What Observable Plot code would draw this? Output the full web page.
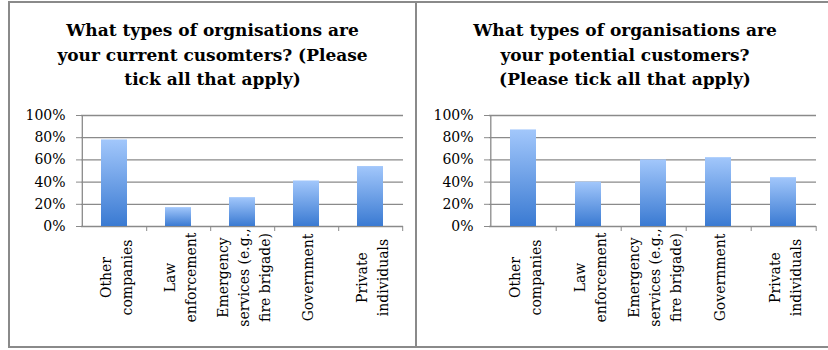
<!DOCTYPE html>
<html>
<head>
<meta charset="utf-8">
<script src="https://cdn.jsdelivr.net/npm/d3@7"></script>
<script src="https://cdn.jsdelivr.net/npm/@observablehq/plot@0.6"></script>
<style>
  html, body { margin: 0; padding: 0; background: #fff; width: 828px; height: 350px; overflow: hidden; }
  .panel { position: absolute; top: 1px; height: 347px; box-sizing: border-box; border: 2px solid #8a8a8a; background: #fff; overflow: hidden; }
  .title { position: absolute; left: 0; right: 0; top: 15px; text-align: center; font: bold 17px "DejaVu Serif"; line-height: 24.5px; color: #000; }
  .chart { position: absolute; left: 0; top: 102px; }
</style>
</head>
<body>
<div class="panel" id="current" style="left:8px;width:409px"></div>
<div class="panel" id="potential" style="left:415px;width:420px"></div>
<script>
// Survey answers: share of respondents ticking each organisation type
const categories = ["Other companies", "Law enforcement", "Emergency services (e.g., fire brigade)", "Government", "Private individuals"];
const tickLabels = ["Other\ncompanies", "Law\nenforcement", "Emergency\nservices (e.g.,\nfire brigade)", "Government", "Private\nindividuals"];
const currentShare = [0.78, 0.17, 0.26, 0.41, 0.54];
const potentialShare = [0.87, 0.40, 0.60, 0.62, 0.44];
const yTicks = [0, 0.2, 0.4, 0.6, 0.8, 1];
const titleCurrent = ["What types of orgnisations are", "your current cusomters? (Please", "tick all that apply)"];
const titlePotential = ["What types of organisations are", "your potential customers?", "(Please tick all that apply)"];

const grey = "#8a8a8a";

function panel(el, values, titleLines, gradId, width, marginLeft, marginRight) {
  const title = document.createElement("div");
  title.className = "title";
  title.innerHTML = titleLines.join("<br>");
  el.appendChild(title);

  const data = categories.map((c, i) => ({category: c, value: values[i]}));
  const height = 230, marginTop = 10, marginBottom = 109;
  const step = (width - marginLeft - marginRight) / categories.length;
  const label = d => tickLabels[categories.indexOf(d)];

  const chart = Plot.plot({
    width, height, marginLeft, marginRight, marginTop, marginBottom,
    style: {fontFamily: "DejaVu Serif", fontSize: "14px", color: "#000", background: "transparent", overflow: "visible"},
    x: {domain: categories, paddingInner: 0.6, paddingOuter: 0.3, axis: null, label: null},
    y: {domain: [0, 1], axis: null, label: null},
    marks: [
      // vertical gradient shared by every bar of this chart
      () => {
        const defs = d3.create("svg:defs");
        const g = defs.append("linearGradient").attr("id", gradId)
          .attr("x1", 0).attr("y1", 0).attr("x2", 0).attr("y2", 1);
        g.append("stop").attr("offset", "0%").attr("stop-color", "#a2c7fb");
        g.append("stop").attr("offset", "100%").attr("stop-color", "#3a7ad2");
        return defs.node();
      },
      Plot.gridY({ticks: yTicks, stroke: grey, strokeOpacity: 1, strokeWidth: 1.3}),
      Plot.ruleX([categories[0]], {x: d => d, dx: -step / 2, y1: 0, y2: 1, stroke: grey, strokeWidth: 1.3}),
      Plot.axisY({ticks: yTicks, tickSize: 5, tickFormat: () => "", stroke: grey, label: null}),
      Plot.axisY({ticks: yTicks, tickSize: 0, tickPadding: 16, tickFormat: d3.format(".0%"),
        fill: "#000", fontSize: 14, fontFamily: "DejaVu Serif", label: null}),
      // category separators on the baseline
      Plot.axisX({ticks: categories, tickSize: 5, dx: step / 2, tickFormat: () => "", stroke: grey, label: null}),
      Plot.barY(data, {x: "category", y: "value", fill: `url(#${gradId})`}),
      Plot.axisX({ticks: categories, tickSize: 0, tickPadding: 51, tickRotate: -90, tickFormat: label,
        textAnchor: "middle", lineAnchor: "middle", lineHeight: 1.5, fill: "#000",
        fontSize: 14, fontFamily: "DejaVu Serif", label: null})
    ]
  });
  chart.classList.add("chart");
  el.appendChild(chart);
}

panel(document.getElementById("current"), currentShare, titleCurrent, "barFillCurrent", 405, 71, 12);
panel(document.getElementById("potential"), potentialShare, titlePotential, "barFillPotential", 410, 72, 11);
</script>
</body>
</html>
